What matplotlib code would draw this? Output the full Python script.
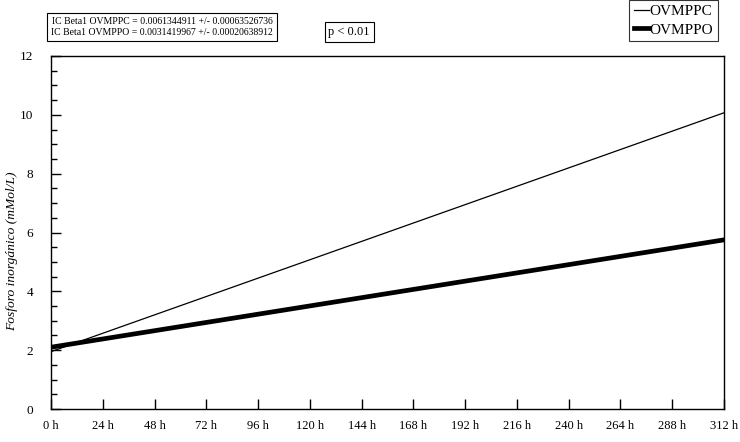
import matplotlib
matplotlib.use("Agg")
import matplotlib.pyplot as plt
from matplotlib.ticker import MultipleLocator

hours = [0, 312]
ovmppc = [1.95, 10.07]
ovmppo = [2.1, 5.75]
xticks = list(range(0, 313, 24))
xlabels = [f"{h} h" for h in xticks]
yticks = [0, 2, 4, 6, 8, 10, 12]

plt.rcParams['font.family'] = ['Liberation Serif', 'DejaVu Serif']

fig = plt.figure(figsize=(7.4, 4.42), dpi=100)
ax = fig.add_axes([51/740, 33/442, (724-51)/740, (409-56)/442])

l1, = ax.plot(hours, ovmppc, color='black', lw=0.9, label='OVMPPC')
l2, = ax.plot(hours, ovmppo, color='black', lw=3.4, label='OVMPPO')

ax.set_xlim(0, 312)
ax.set_ylim(0, 12)
ax.set_xticks(xticks)
ax.set_xticklabels(xlabels, fontsize=9)
ax.set_yticks(yticks)
ax.set_yticklabels([str(v) for v in yticks], fontsize=9.5)
ax.yaxis.set_minor_locator(MultipleLocator(0.5))
ax.tick_params(axis='both', which='major', direction='in', length=7, width=1)
ax.tick_params(axis='y', which='minor', direction='in', length=4, width=1)
ax.tick_params(axis='x', pad=8)
ax.tick_params(axis='y', pad=13)
for s in ax.spines.values():
    s.set_linewidth(1)

ax.set_ylabel('Fosforo inorgánico (mMol/L)', fontsize=9.7, style='italic')
ax.yaxis.set_label_coords(-0.049, 0.448)

fig.text(162/740, 1-27/442,
         'IC Beta1 OVMPPC = 0.0061344911 +/- 0.00063526736\nIC Beta1 OVMPPO = 0.0031419967 +/- 0.00020638912',
         fontsize=7, va='center', ha='center', linespacing=1.25,
         bbox=dict(boxstyle='square,pad=0.4', fc='white', ec='black', lw=0.8))
fig.text(349/740, 1-32/442, 'p < 0.01', fontsize=9, va='center', ha='center',
         bbox=dict(boxstyle='square,pad=0.3', fc='white', ec='black', lw=0.8))

leg = fig.legend(handles=[l1, l2], loc='upper left', bbox_to_anchor=(629/740, 1.0),
                 fontsize=11, frameon=True, fancybox=False, edgecolor='black',
                 handlelength=1.0, handletextpad=0.05, borderpad=0.3, labelspacing=0.3,
                 borderaxespad=0)
leg.get_frame().set_linewidth(0.8)

fig.savefig('out.png', dpi=100)
